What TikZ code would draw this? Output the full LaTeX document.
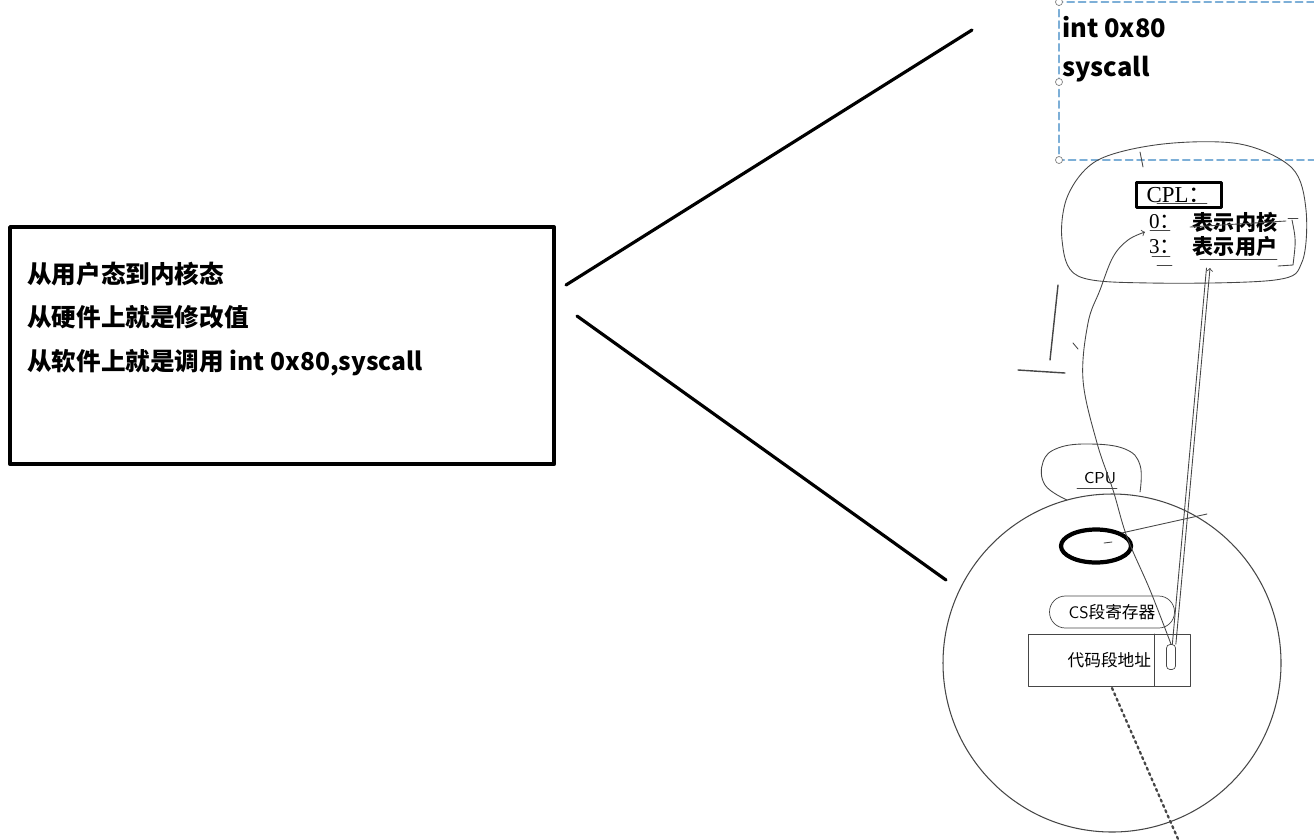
\documentclass[tikz,border=0pt]{standalone}
\usepackage{fontspec}
\usepackage{xcolor}
\usetikzlibrary{shapes.geometric}
\newfontfamily\cjk{Noto Sans CJK SC}
\newfontfamily\tms{Liberation Serif}
\definecolor{selblue}{RGB}{125,175,215}
\definecolor{pencil}{RGB}{70,70,70}

\begin{document}
\begin{tikzpicture}[x=0.02cm, y=-0.02cm, line join=round, line cap=round,
    big/.style={font=\cjk\bfseries\fontsize{14pt}{24.6pt}\selectfont, inner sep=0pt},
    small/.style={font=\cjk\fontsize{9.5pt}{11pt}\selectfont, inner sep=0pt},
    cpl/.style={font=\cjk\bfseries\fontsize{12pt}{14pt}\selectfont, inner sep=0pt},
    sketch/.style={pencil, line width=0.5pt},
    handle/.style={circle, draw=gray, fill=white, line width=0.4pt, inner sep=0pt, minimum size=4pt}]
    \useasboundingbox (0,0) rectangle (1314,839);

    % Left box
    \node[draw, line width=2.4pt, rectangle, minimum width=10.88cm, minimum height=4.74cm, anchor=north west] (note) at (8,225) {};
    \node[big, align=left, anchor=west] (notetext) at (27,319) {从用户态到内核态\\从硬件上就是修改值\\从软件上就是调用 int 0x80,syscall};

    % Callout lines
    \coordinate (uptip) at (972,30);
    \coordinate (downtip) at (946,580);
    \draw[line width=1.8pt] (566,285) -- (uptip);
    \draw[line width=1.8pt] (577,316) -- (downtip);

    % Selected text box
    \draw[selblue, line width=1pt, dash pattern=on 4pt off 2.5pt] (1314,2) -- (1059,2) -- (1059,160) -- (1314,160);
    \node[handle] (h1) at (1059,2) {};
    \node[handle] (h2) at (1059,82) {};
    \node[handle] (h3) at (1059,160) {};
    \node[big, font=\cjk\bfseries\fontsize{14.5pt}{18pt}\selectfont, anchor=west] (intcall) at (1062,27) {int 0x80};
    \node[big, font=\cjk\bfseries\fontsize{14.5pt}{18pt}\selectfont, anchor=west] (syscall) at (1062,69) {syscall};

    % CPL blob
    \draw[sketch] plot[smooth cycle, tension=0.55] coordinates {(1163,144) (1240,144) (1292,168) (1306,210) (1302,262) (1275,280) (1150,283) (1078,276) (1062,240) (1068,195) (1098,160)};
    \draw[sketch] (1140,152) -- (1143,167);
    \node[draw, line width=2pt, minimum width=1.7cm, minimum height=0.5cm, inner sep=0pt, font=\tms\fontsize{13pt}{15pt}\selectfont] (cplbox) at (1179,195) {CPL\cjk ：};
    \node[cpl, font=\tms\fontsize{12pt}{14pt}\selectfont] (zero) at (1165,222) {0\cjk ：};
    \node[cpl, font=\tms\fontsize{12pt}{14pt}\selectfont] (three) at (1165,247) {3\cjk ：};
    \node[cpl] (kernel) at (1235,222) {表示内核};
    \node[cpl] (user) at (1235,247) {表示用户};
    \draw[sketch] (1157,203) -- (1207,203);
    \draw[sketch] (1150,230) -- (1170,230);
    \draw[sketch] (1152,256) -- (1170,256);
    \draw[sketch] (1157,265) -- (1172,265);
    \draw[sketch] (1200,259) -- (1277,259);
    \draw[sketch] (1190,227) -- (1286,221);
    \draw[sketch] (1288,218) -- (1298,218);
    \draw[sketch] (1292,220) .. controls (1296,240) .. (1293,265) -- (1278,266);

    % Scribbles
    \draw[sketch, line width=0.8pt] (1058,285) -- (1050,360);
    \draw[sketch, line width=0.8pt] (1018,370) -- (1065,373);
    \draw[sketch] (1073,343) -- (1078,349);

    % CPU
    \draw[sketch] plot[smooth, tension=0.7] coordinates {(1067,500) (1045,485) (1043,462) (1058,448) (1090,444) (1125,449) (1140,465) (1140,492)};
    \node[small, font=\sffamily\fontsize{9pt}{10pt}\selectfont] (cpu) at (1100,478) {CPU};
    \draw[sketch] (1077,488) -- (1117,488);
    \draw[pencil, line width=0.6pt] (1112,663) circle (169);

    % Register
    \node[draw, ellipse, line width=2.4pt, minimum width=1.4cm, minimum height=0.66cm] (reg) at (1096,546) {};
    \coordinate (regend) at (1207,514);
    \draw[sketch] (reg.north east) -- (regend);
    \draw[sketch] (1104,543) -- (1112,542);
    \node[small, draw=pencil, rounded corners=9pt, minimum width=2.5cm, minimum height=0.64cm] (cs) at (1112,612) {{\sffamily CS}段寄存器};
    \node[small, draw=pencil, minimum width=3.24cm, minimum height=1.04cm, anchor=north west] (addr) at (1028,634) {代码段地址};
    \draw[pencil] (1154,634) -- (1154,686);
    \node[draw=pencil, rounded corners=2pt, minimum width=0.18cm, minimum height=0.5cm, inner sep=0pt] (bit) at (1171,657) {};

    % Arrows
    \coordinate (zerotip) at (1145,232);
    \coordinate (usertip) at (1210,268);
    \draw[->, sketch] plot[smooth, tension=0.6] coordinates {(bit.north) (1150,590) (1127,537) (1113,490) (1097,443) (1083,380) (1088,323) (1100,290) (1113,257) (1128,240) (zerotip)};
    \draw[->, sketch] (bit.north east) -- (usertip);
    \draw[sketch] ([xshift=-2pt]bit.north east) -- ([xshift=-2pt]usertip);
    \coordinate (dotend) at (1178,839);
    \draw[dotted, line width=1.3pt, pencil] (1112,688) -- (dotend);
\end{tikzpicture}
\end{document}
